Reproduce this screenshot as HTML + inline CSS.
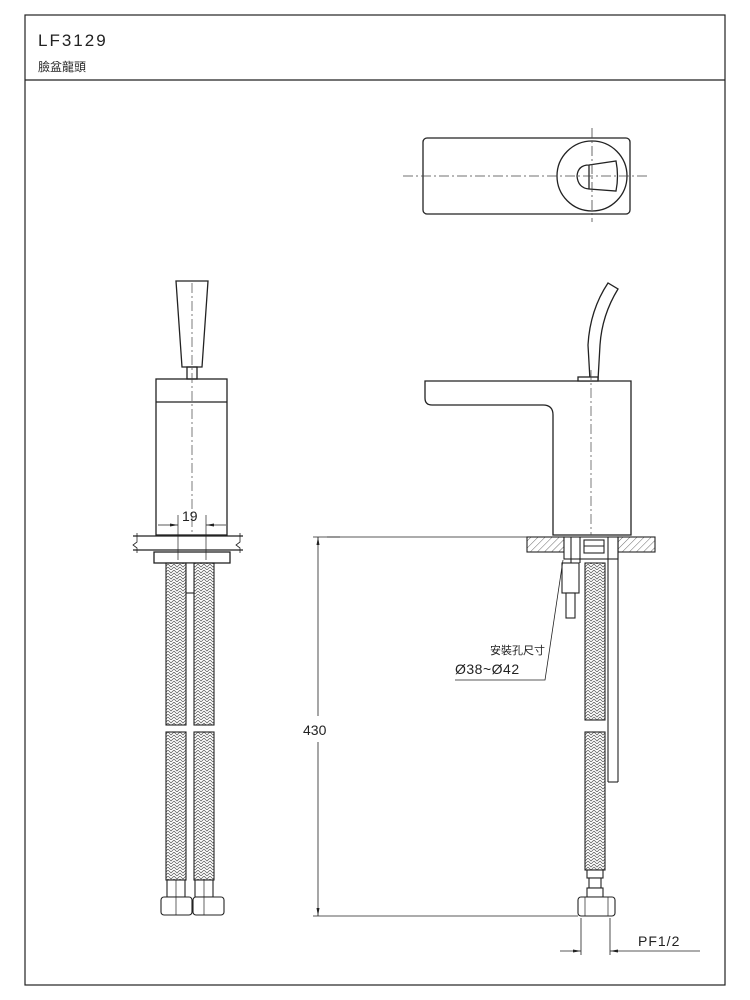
<!DOCTYPE html>
<html><head><meta charset="utf-8"><style>
html,body{margin:0;padding:0;background:#fff;}
svg{display:block;}
text{font-family:"Liberation Sans","Noto Sans CJK TC",sans-serif;fill:#222;}
</style></head><body>
<svg width="750" height="1000" viewBox="0 0 750 1000" xmlns="http://www.w3.org/2000/svg">
<defs>
<pattern id="hx" width="6" height="6" patternUnits="userSpaceOnUse">
<path d="M0 0 L3 3 L6 0 M0 3 L3 6 L6 3" stroke="#555" stroke-width="0.7" fill="none"/>
</pattern>
<pattern id="ht" width="5" height="5" patternUnits="userSpaceOnUse" patternTransform="rotate(45)">
<line x1="0" y1="0" x2="0" y2="5" stroke="#444" stroke-width="0.8"/>
</pattern>
<marker id="ar" markerWidth="8" markerHeight="6" refX="8" refY="3" orient="auto" markerUnits="userSpaceOnUse"><path d="M0 1.5 L8 3 L0 4.5Z" fill="#222"/></marker>
</defs>
<g fill="none" stroke="#222" stroke-width="1.2">
<rect x="25" y="15" width="700" height="970"/>
<line x1="25" y1="80" x2="725" y2="80"/>
</g>
<text x="38" y="46" font-size="17" letter-spacing="2" style="font-weight:300">LF3129</text>
<text x="38" y="71" font-size="12">臉盆龍頭</text>

<!-- top view -->
<g fill="none" stroke="#222" stroke-width="1.3">
<rect x="423" y="138" width="207" height="76" rx="4"/>
<circle cx="592" cy="176" r="35"/>
<path d="M589 165 Q578 165 577 176 Q578 188 589 189 L616 191 Q619 176 616 161 Z"/>
<line x1="589" y1="165" x2="589" y2="189"/>
</g>
<g stroke="#444" stroke-width="0.8" stroke-dasharray="10,3,2,3">
<line x1="403" y1="176" x2="647" y2="176"/>
<line x1="592" y1="128" x2="592" y2="222"/>
</g>

<!-- left view -->
<g fill="none" stroke="#222" stroke-width="1.3">
<path d="M176 281 L208 281 L202 367 L182 367 Z"/>
<rect x="187" y="367" width="10" height="12"/>
<rect x="156" y="379" width="71" height="156"/>
<line x1="156" y1="402" x2="227" y2="402"/>
<line x1="133" y1="536" x2="243" y2="536"/>
<line x1="133" y1="550" x2="243" y2="550"/>
<path d="M137 533 L137 542 L133 545 L137 548 L137 553 M240 533 L240 542 L236 545 L240 548 L240 553" stroke-width="0.8"/>
<rect x="154" y="552" width="76" height="11"/>
</g>
<g stroke="#444" stroke-width="0.7" stroke-dasharray="10,3,2,3"><line x1="192" y1="283" x2="192" y2="535"/></g>
<g stroke="#222" stroke-width="0.7">
<line x1="178" y1="515" x2="178" y2="560"/><line x1="206" y1="515" x2="206" y2="560"/>
<line x1="158" y1="525" x2="178" y2="525" marker-end="url(#ar)"/>
<line x1="226" y1="525" x2="206" y2="525" marker-end="url(#ar)"/>
</g>
<text x="182" y="521" font-size="14" style="font-weight:300">19</text>
<g stroke="#222" stroke-width="1.1">
<rect x="166" y="563" width="20" height="162" fill="url(#hx)"/>
<rect x="194" y="563" width="20" height="162" fill="url(#hx)"/>
<rect x="166" y="732" width="20" height="148" fill="url(#hx)"/>
<rect x="194" y="732" width="20" height="148" fill="url(#hx)"/>
<rect x="186" y="563" width="8" height="30" fill="#fff"/>
<rect x="167" y="880" width="18" height="17" fill="#fff"/>
<rect x="195" y="880" width="18" height="17" fill="#fff"/>
<rect x="161" y="897" width="31" height="18" rx="3" fill="#fff"/>
<rect x="193" y="897" width="31" height="18" rx="3" fill="#fff"/>
<line x1="176" y1="880" x2="176" y2="915" stroke-width="0.7"/>
<line x1="204" y1="880" x2="204" y2="915" stroke-width="0.7"/>
</g>

<!-- right view -->
<g fill="none" stroke="#222" stroke-width="1.3">
<path d="M590 380 L588 345 Q590 310 608 283 L618 289 Q602 315 600 345 L598 380"/>
<path d="M425 381 L631 381 L631 535 L553 535 L553 415 Q553 405 543 405 L432 405 Q425 405 425 398 Z"/>
<rect x="578" y="377" width="20" height="4" fill="#fff"/>
</g>
<g stroke="#444" stroke-width="0.7" stroke-dasharray="10,3,2,3"><line x1="591" y1="370" x2="591" y2="535"/></g>
<g stroke="#222" stroke-width="1.1">
<rect x="527" y="537" width="37" height="15" fill="url(#ht)"/>
<rect x="618" y="537" width="37" height="15" fill="url(#ht)"/>
<rect x="564" y="537" width="54" height="22" fill="#fff"/>
<line x1="571" y1="537" x2="571" y2="563"/><line x1="580" y1="537" x2="580" y2="563"/>
<rect x="584" y="540" width="20" height="13" fill="#fff"/>
<line x1="584" y1="546" x2="604" y2="546"/>
<line x1="608" y1="537" x2="608" y2="782"/><line x1="618" y1="537" x2="618" y2="782"/>
<line x1="608" y1="782" x2="618" y2="782"/>
<rect x="562" y="563" width="17" height="30" fill="#fff"/>
<rect x="566" y="593" width="9" height="25" fill="#fff"/>
<rect x="585" y="563" width="20" height="157" fill="url(#hx)"/>
<rect x="585" y="732" width="20" height="138" fill="url(#hx)"/>
<rect x="587" y="870" width="16" height="8" fill="#fff"/>
<rect x="589" y="878" width="12" height="10" fill="#fff"/>
<rect x="587" y="888" width="16" height="9" fill="#fff"/>
<rect x="578" y="897" width="37" height="19" rx="3" fill="#fff"/>
<line x1="585" y1="897" x2="585" y2="916" stroke-width="0.7"/>
<line x1="608" y1="897" x2="608" y2="916" stroke-width="0.7"/>
</g>
<path d="M327 537 L527 537" stroke="#222" stroke-width="0.7"/>
<g stroke="#222" stroke-width="0.8" fill="none">
<polyline points="563,560 545,680 455,680"/>
<line x1="313" y1="537" x2="340" y2="537"/>
<line x1="313" y1="916" x2="578" y2="916"/>
<line x1="318" y1="716" x2="318" y2="537" marker-end="url(#ar)"/>
<line x1="318" y1="742" x2="318" y2="916" marker-end="url(#ar)"/>
<line x1="581" y1="918" x2="581" y2="955"/><line x1="610" y1="918" x2="610" y2="955"/>
<line x1="560" y1="951" x2="581" y2="951" marker-end="url(#ar)"/>
<line x1="700" y1="951" x2="610" y2="951" marker-end="url(#ar)"/>
</g>
<text x="303" y="735" font-size="14" style="font-weight:300">430</text>
<text x="490" y="654" font-size="11">安裝孔尺寸</text>
<text x="455" y="674" font-size="14" letter-spacing="0.5" style="font-weight:300">Ø38~Ø42</text>
<text x="638" y="946" font-size="14" letter-spacing="1" style="font-weight:300">PF1/2</text>
</svg>
</body></html>
